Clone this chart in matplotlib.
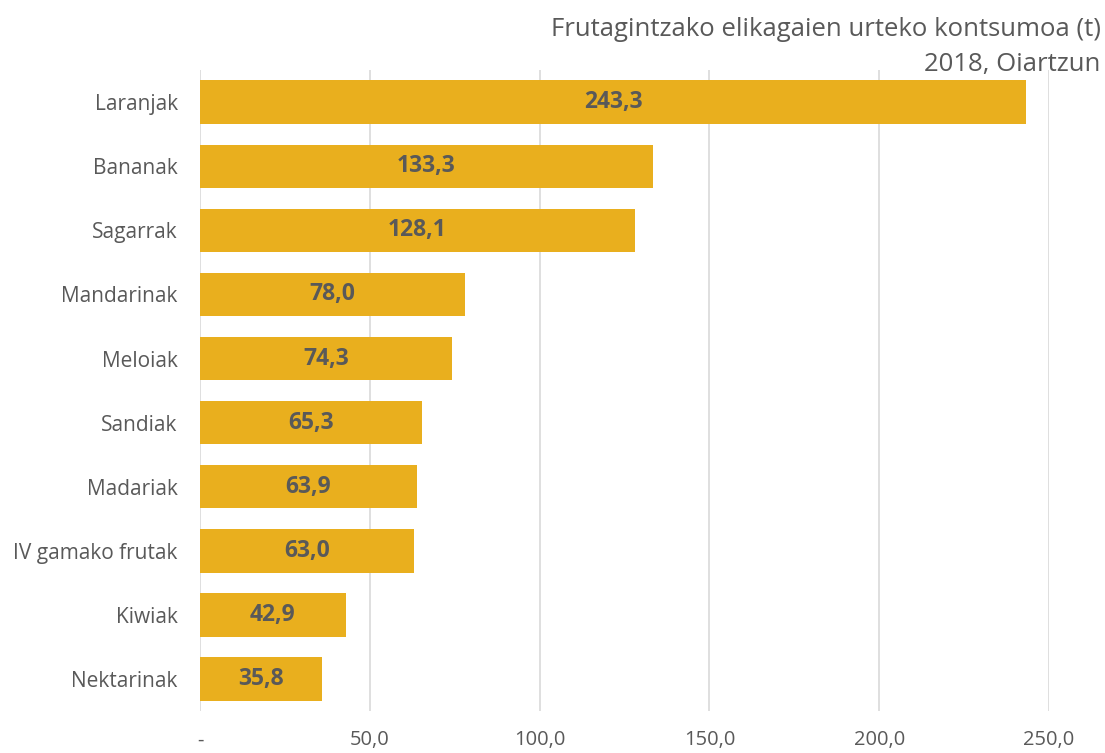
import matplotlib
matplotlib.use("Agg")
import matplotlib.pyplot as plt

# --- data ---
categories = ["Laranjak", "Bananak", "Sagarrak", "Mandarinak", "Meloiak",
              "Sandiak", "Madariak", "IV gamako frutak", "Kiwiak", "Nektarinak"]
values = [243.3, 133.3, 128.1, 78.0, 74.3, 65.3, 63.9, 63.0, 42.9, 35.8]
xticks = [0, 50, 100, 150, 200, 250]
xtick_labels = ["-", "50,0", "100,0", "150,0", "200,0", "250,0"]

BAR_COLOR = "#E9AF1E"
TEXT_COLOR = "#595959"

plt.rcParams["font.family"] = ["Open Sans", "DejaVu Sans"]

fig = plt.figure(figsize=(11.05, 7.53), dpi=100)
ax = fig.add_axes([0.181, 0.0558, 0.7683, 0.851])

ypos = list(range(len(categories)))
ax.barh(ypos, values, height=0.68, color=BAR_COLOR, zorder=2)
ax.set_ylim(len(categories) - 0.5, -0.5)
ax.set_yticks(ypos)
ax.set_yticklabels(categories, fontsize=15, color=TEXT_COLOR)

ax.set_xlim(0, 250)
ax.set_xticks(xticks)
ax.set_xticklabels(xtick_labels, fontsize=14.5, color=TEXT_COLOR)
ax.tick_params(length=0)
ax.tick_params(axis="x", pad=14)
ax.tick_params(axis="y", pad=16)
ax.grid(axis="x", color="#D9D9D9", linewidth=1.2, zorder=0)
for s in ax.spines.values():
    s.set_visible(False)

for y, v in zip(ypos, values):
    ax.text(v / 2, y, f"{v:.1f}".replace(".", ","), ha="center", va="center",
            fontsize=16.5, fontweight="bold", color=TEXT_COLOR, zorder=3)

fig.text(0.996, 0.961, "Frutagintzako elikagaien urteko kontsumoa (t)",
         ha="right", va="center", fontsize=18.5, color=TEXT_COLOR)
fig.text(0.996, 0.915, "2018, Oiartzun",
         ha="right", va="center", fontsize=18.5, color=TEXT_COLOR)

fig.savefig("out.png", dpi=100)
